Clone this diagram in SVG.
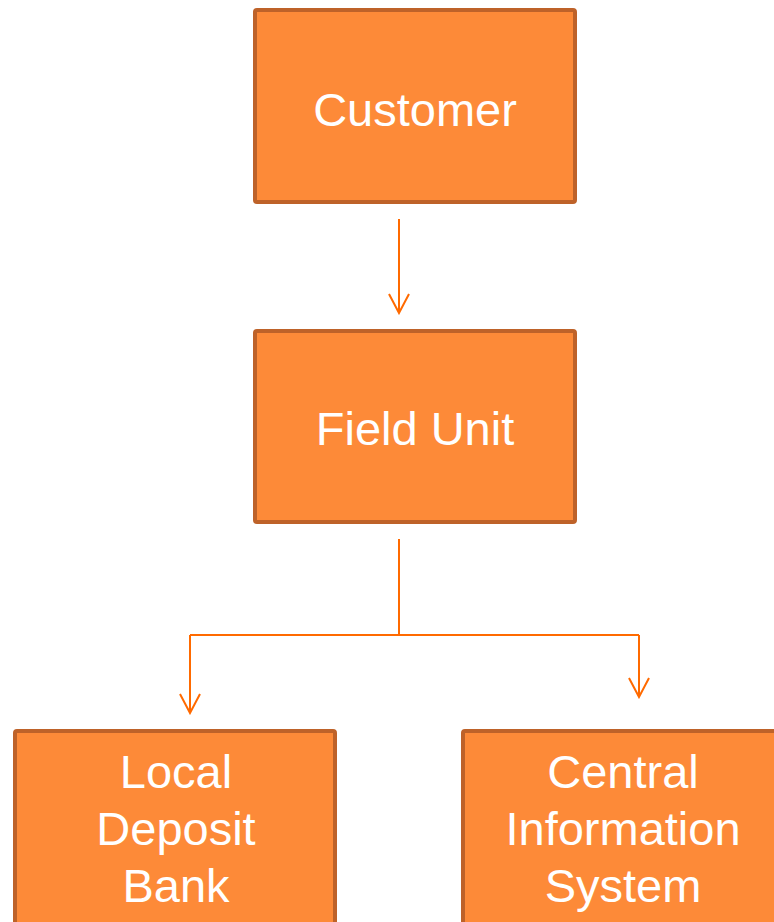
<svg xmlns="http://www.w3.org/2000/svg" width="774" height="922" viewBox="0 0 774 922">
<style>
.box{fill:#FD8A38;stroke:#BE6229;stroke-width:4}
.lbl{font-family:"Liberation Sans",Arial,sans-serif;font-size:47px;fill:#FFFFFF;text-anchor:middle}
.con{fill:none;stroke:#FF6A00;stroke-width:2}
</style>
<defs>
<marker id="ah" markerUnits="userSpaceOnUse" markerWidth="24" markerHeight="24" viewBox="-22 -12 24 24" refX="0" refY="0" orient="auto">
<path d="M-19,-10 L0,0 L-19,10" fill="none" stroke="#FF6A00" stroke-width="2"/>
</marker>
</defs>
<rect width="774" height="922" fill="#FFFFFF"/>
<g id="connectors">
<path class="con" d="M399,219 L399,313" marker-end="url(#ah)"/>
<path class="con" d="M399,539 L399,635 M190,635 L639,635"/>
<path class="con" d="M190,635 L190,713" marker-end="url(#ah)"/>
<path class="con" d="M639,635 L639,697" marker-end="url(#ah)"/>
</g>
<g id="customer">
<rect class="box" x="255" y="10" width="320" height="192" rx="2"/>
<text class="lbl" x="415" y="126">Customer</text>
</g>
<g id="field-unit">
<rect class="box" x="255" y="331" width="320" height="191" rx="2"/>
<text class="lbl" x="415" y="445">Field Unit</text>
</g>
<g id="local-deposit-bank">
<rect class="box" x="15" y="731" width="320" height="200" rx="2"/>
<text class="lbl" x="176" y="788">Local</text>
<text class="lbl" x="176" y="845">Deposit</text>
<text class="lbl" x="176" y="902">Bank</text>
</g>
<g id="central-information-system">
<rect class="box" x="463" y="731" width="320" height="200" rx="2"/>
<text class="lbl" x="623" y="788">Central</text>
<text class="lbl" x="623" y="845">Information</text>
<text class="lbl" x="623" y="902">System</text>
</g>
</svg>
